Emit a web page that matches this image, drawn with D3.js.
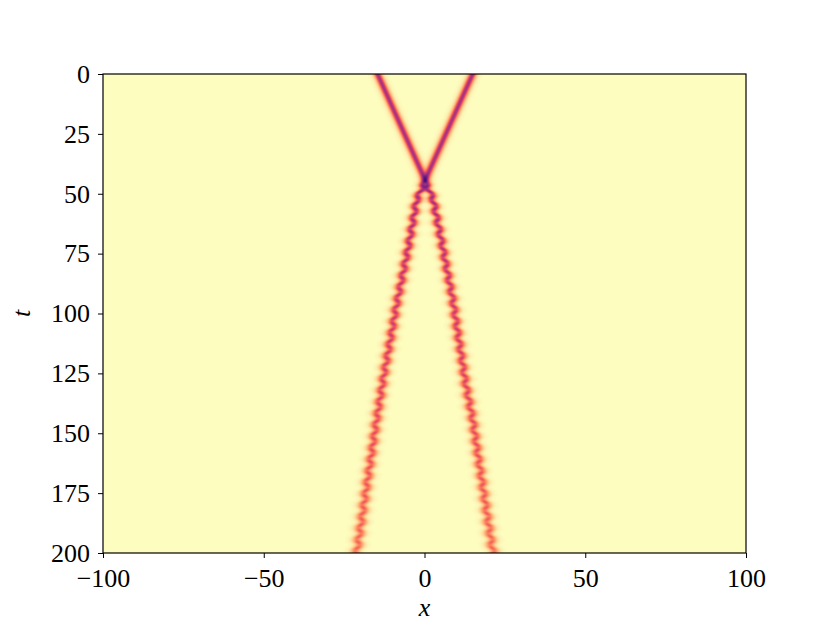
<!DOCTYPE html>
<html>
<head>
<meta charset="utf-8">
<script src="https://cdn.jsdelivr.net/npm/d3@7"></script>
<style>
body { margin: 0; background: #fff; }
text { font-family: "Liberation Serif", "DejaVu Serif", serif; }
</style>
</head>
<body>
<script>
// soliton tracks (x position at time t)
var tCollide = 44.3;
var trackT = [0, 44.3, 52.6, 73.5, 94.4, 127.8, 144.5, 169.5, 200];
var leftX = [-14.6, 0.2, -2.4, -5.2, -8.4, -12.9, -14.9, -17.7, -21.1];
var rightX = [15.0, 0.2, 2.7, 5.8, 8.8, 12.6, 15.0, 17.8, 21.3];
// peak height (0..1 on the colour scale) and width along the tracks
var ampT = [0, 44.3, 47, 60, 90, 130, 170, 200];
var ampV = [0.53, 0.53, 0.51, 0.48, 0.43, 0.38, 0.33, 0.29];
var widthV = [1.1, 1.1, 1.15, 1.2, 1.25, 1.3, 1.35, 1.4];
// zig-zag after the collision
var wobblePeriod = 4.8;
var wobbleAmp = 0.5;
var xTicks = [-100, -50, 0, 50, 100];
var tTicks = [0, 25, 50, 75, 100, 125, 150, 175, 200];

var width = 830, height = 623;
var pLeft = 103, pRight = 746, pTop = 74, pBottom = 553;

var svg = d3.select('body').append('svg').attr('width', width).attr('height', height);

var x = d3.scaleLinear().domain([-100, 100]).range([pLeft, pRight]);
var y = d3.scaleLinear().domain([0, 200]).range([pTop, pBottom]);
var color = d3.scaleSequential(function (v) { return d3.interpolateMagma(1 - v); }).domain([0, 1]).clamp(true);

var leftTrack = d3.scaleLinear().domain(trackT).range(leftX);
var rightTrack = d3.scaleLinear().domain(trackT).range(rightX);
var amp = d3.scaleLinear().domain(ampT).range(ampV);
var wid = d3.scaleLinear().domain(ampT).range(widthV);

function sech2(z) {
    var c = Math.cosh(z);
    return 1 / (c * c);
}

// heatmap painted into a canvas, then dropped into the svg
var W = pRight - pLeft, H = pBottom - pTop;
var canvas = document.createElement('canvas');
canvas.width = W;
canvas.height = H;
var ctx = canvas.getContext('2d');
var img = ctx.createImageData(W, H);

for (var j = 0; j < H; j++) {
    var t = y.invert(pTop + j + 0.5);
    var off = 0, gain = 1;
    if (t > tCollide) {
        var ph = 2 * Math.PI * (t - tCollide) / wobblePeriod;
        var ramp = Math.min(1, (t - tCollide) / 3);
        off = wobbleAmp * Math.sin(ph) * ramp;
        gain = 1 + 0.1 * Math.cos(2 * ph) * ramp;
    }
    var cl = leftTrack(t) - off, cr = rightTrack(t) + off;
    var a = amp(t) * gain, w = wid(t);
    for (var i = 0; i < W; i++) {
        var xv = x.invert(pLeft + i + 0.5);
        var p = a * sech2((xv - cl) / w);
        var q = a * sech2((xv - cr) / w);
        var v = p + q - p * q;
        var c = d3.rgb(color(v));
        var k = (j * W + i) * 4;
        img.data[k] = c.r;
        img.data[k + 1] = c.g;
        img.data[k + 2] = c.b;
        img.data[k + 3] = 255;
    }
}
ctx.putImageData(img, 0, 0);

svg.append('image')
    .attr('x', pLeft).attr('y', pTop)
    .attr('width', W).attr('height', H)
    .attr('href', canvas.toDataURL());

function fmt(d) {
    return d < 0 ? '\u2212' + Math.abs(d) : '' + d;
}

var xAxis = svg.append('g')
    .attr('transform', 'translate(0,' + pBottom + ')')
    .call(d3.axisBottom(x).tickValues(xTicks).tickFormat(fmt).tickSize(5).tickPadding(11));
var yAxis = svg.append('g')
    .attr('transform', 'translate(' + pLeft + ',0)')
    .call(d3.axisLeft(y).tickValues(tTicks).tickFormat(fmt).tickSize(5).tickPadding(8));

[xAxis, yAxis].forEach(function (g) {
    g.attr('font-family', null).attr('font-size', null);
    g.select('.domain').remove();
    g.selectAll('text').attr('fill', '#000').style('font-size', '26px');
    g.selectAll('line').attr('stroke', '#000').attr('stroke-width', 1);
});

svg.append('rect')
    .attr('x', pLeft).attr('y', pTop)
    .attr('width', W).attr('height', H)
    .attr('fill', 'none')
    .attr('stroke', '#000')
    .attr('stroke-width', 1.2);

svg.append('text')
    .attr('x', (pLeft + pRight) / 2).attr('y', 616)
    .attr('text-anchor', 'middle')
    .style('font-size', '26px').style('font-style', 'italic')
    .text('x');

svg.append('text')
    .attr('transform', 'translate(30,' + ((pTop + pBottom) / 2) + ') rotate(-90)')
    .attr('text-anchor', 'middle')
    .style('font-size', '26px').style('font-style', 'italic')
    .text('t');
</script>
</body>
</html>
